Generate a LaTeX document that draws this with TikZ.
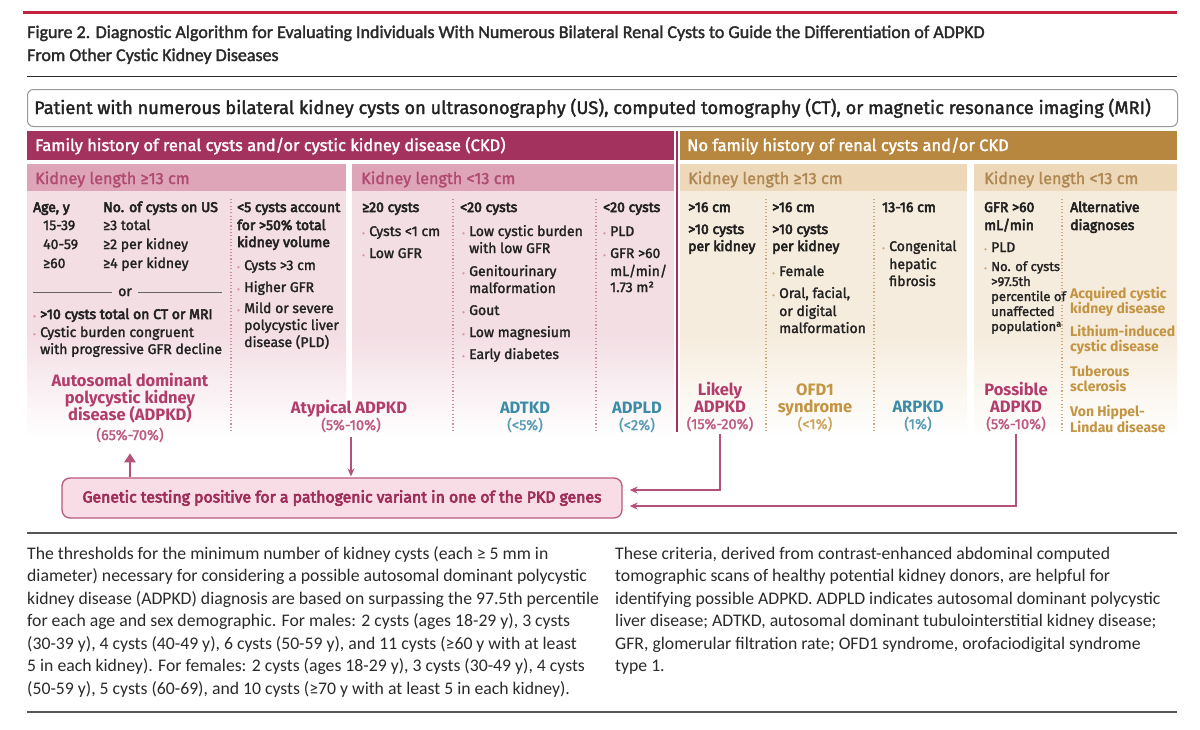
\documentclass[tikz,border=0pt]{standalone}
\usepackage{fontspec}
\setmainfont{Fira Sans}[UprightFeatures={FakeBold=1.8}]
\newfontfamily\capfont{Carlito}
\newfontfamily\titfont{Carlito}[FakeBold=1.8]
\newfontfamily\medfont{Fira Sans}[FakeBold=4]
\usetikzlibrary{arrows.meta}
\definecolor{redline}{HTML}{C4213F}
\definecolor{purplebar}{HTML}{A4325E}
\definecolor{goldbar}{HTML}{B8873F}
\definecolor{pinkhead}{HTML}{DDA5B7}
\definecolor{pinkheadtxt}{HTML}{B04A71}
\definecolor{pinkbody}{HTML}{F3DEE4}
\definecolor{beigehead}{HTML}{EDD9BA}
\definecolor{beigeheadtxt}{HTML}{AE8752}
\definecolor{beigebody}{HTML}{F6ECDD}
\definecolor{magtxt}{HTML}{B23D6C}
\definecolor{tealtxt}{HTML}{3B8CA7}
\definecolor{goldtxt}{HTML}{C39442}
\definecolor{darktxt}{HTML}{222222}
\definecolor{bulpink}{HTML}{D98FA8}
\definecolor{bultan}{HTML}{D0A46A}
\definecolor{dotpink}{HTML}{CC8CA3}
\definecolor{dottan}{HTML}{CFAB7A}
\definecolor{genfill}{HTML}{F9DDE6}
\definecolor{gendraw}{HTML}{BA5880}
\definecolor{gentxt}{HTML}{9E2E5A}
\definecolor{arrowc}{HTML}{B4517B}
\definecolor{capgray}{HTML}{2A2A2A}
\newcommand\bp{\makebox[7pt][l]{\textcolor{bulpink}{\fontsize{8}{8}\selectfont •}}}
\newcommand\bt{\makebox[7pt][l]{\textcolor{bultan}{\fontsize{8}{8}\selectfont •}}}
\newcommand\Ln[5][]{\node[txt,#1] (#2) at (#3,#4) {#5};}
\newcommand\Dg[5][]{\node[diag,#1] (#2) at (#3,#4) {#5};}
\begin{document}
\begin{tikzpicture}[x=1pt,y=-1pt,
  txt/.style={inner sep=0pt, anchor=base west, text=darktxt, font=\fontsize{14}{16}\selectfont},
  hd/.style={font=\fontsize{14}{16}\selectfont\medfont},
  alt/.style={text=goldtxt, font=\fontsize{14}{16}\selectfont\bfseries},
  diag/.style={inner sep=0pt, anchor=base, font=\fontsize{16.5}{17}\selectfont\bfseries},
  pct/.style={inner sep=0pt, anchor=base, font=\fontsize{14.5}{16}\selectfont},
  capt/.style={inner sep=0pt, anchor=base west, text=capgray, font=\fontsize{17.7}{20}\selectfont\capfont},
  sub/.style={inner sep=0pt, anchor=base west, font=\fontsize{16.2}{18}\selectfont},
  dotl/.style={line width=1.1pt, dash pattern=on 1.1pt off 2.2pt},
  dnar/.style={arrowc, line width=1.4pt, -{Stealth[length=8pt,width=7pt]}},
  upar/.style={arrowc, line width=2.8pt, -{Triangle[length=9pt,width=11pt]}},
  genbox/.style={draw=gendraw, fill=genfill, line width=1.3pt, rounded corners=8pt,
    minimum width=560pt, minimum height=40pt, text=gentxt, font=\fontsize{15.8}{17}\selectfont\medfont}
]
\useasboundingbox (0,0) rectangle (1200,729);
\fill[white] (0,0) rectangle (1200,729);

% title
\draw[redline, line width=3pt] (23,12) -- (1177,12);
\node[capt, font=\fontsize{18}{20}\selectfont\titfont] (t1) at (27,38) {Figure 2. Diagnostic Algorithm for Evaluating Individuals With Numerous Bilateral Renal Cysts to Guide the Differentiation of ADPKD};
\node[capt, font=\fontsize{18}{20}\selectfont\titfont] (t2) at (27,61) {From Other Cystic Kidney Diseases};
\draw[capgray, line width=1pt] (27,76) -- (1177,76);

% patient box
\node[draw=black!40, line width=1pt, rounded corners=6pt, minimum width=1150pt, minimum height=37pt, anchor=north west, inner sep=0pt] (patient) at (27,89) {};
\node[txt, font=\fontsize{18.2}{19}\selectfont] (patientT) at (34,114) {Patient with numerous bilateral kidney cysts on ultrasonography (US), computed tomography (CT), or magnetic resonance imaging (MRI)};

% headers
\fill[purplebar] (27,131) rectangle (674,160);
\fill[goldbar] (680,131) rectangle (1177,160);
\node[sub, text=white, font=\fontsize{16.5}{18}\selectfont] (famL) at (35,151) {Family history of renal cysts and/or cystic kidney disease (CKD)};
\node[sub, text=white, font=\fontsize{16.5}{18}\selectfont] (famR) at (687,151) {No family history of renal cysts and/or CKD};

\fill[pinkhead] (27,164) rectangle (346,191);
\fill[pinkhead] (352,164) rectangle (674,191);
\fill[beigehead] (680,164) rectangle (967,191);
\fill[beigehead] (974,164) rectangle (1177,191);
\node[sub, text=pinkheadtxt] (kl1) at (35,184) {Kidney length ≥13 cm};
\node[sub, text=pinkheadtxt] (kl2) at (361,184) {Kidney length <13 cm};
\node[sub, text=beigeheadtxt] (kl3) at (688,184) {Kidney length ≥13 cm};
\node[sub, text=beigeheadtxt] (kl4) at (984,184) {Kidney length <13 cm};

% bodies
\fill[pinkbody] (27,191) rectangle (346,335);
\shade[top color=pinkbody, bottom color=white] (27,335) rectangle (346,437);
\fill[pinkbody] (352,191) rectangle (674,335);
\shade[top color=pinkbody, bottom color=white] (352,335) rectangle (674,437);
\fill[beigebody] (680,191) rectangle (967,335);
\shade[top color=beigebody, bottom color=white] (680,335) rectangle (967,437);
\fill[beigebody] (974,191) rectangle (1177,335);
\shade[top color=beigebody, bottom color=white] (974,335) rectangle (1177,437);

\draw[purplebar, line width=2pt] (677,131) -- (677,432);
\draw[dotl, dotpink] (231,199) -- (231,432);
\draw[dotl, dotpink] (453,199) -- (453,432);
\draw[dotl, dotpink] (596,199) -- (596,432);
\draw[dotl, dottan] (766,199) -- (766,432);
\draw[dotl, dottan] (874,199) -- (874,432);
\draw[dotl, dottan] (1062,199) -- (1062,432);

% column A
\Ln[hd]{a1}{33}{212}{Age, y}
\Ln[hd]{a2}{103}{212}{No. of cysts on US}
\Ln{a3}{43}{230}{15-39}
\Ln{a4}{103}{230}{≥3 total}
\Ln{a5}{43}{249}{40-59}
\Ln{a6}{103}{249}{≥2 per kidney}
\Ln{a7}{43}{268}{≥60}
\Ln{a8}{103}{268}{≥4 per kidney}
\node[txt, anchor=base] (aor) at (125,296) {or};
\draw[darktxt!70, line width=0.7pt] (33,292) -- (112,292);
\draw[darktxt!70, line width=0.7pt] (138,292) -- (222,292);
\Ln[hd]{a9}{33}{319}{\bp>10 cysts total on CT or MRI}
\Ln{a10}{33}{337}{\bp Cystic burden congruent}
\Ln{a11}{40}{354}{with progressive GFR decline}

% column B
\Ln[hd]{b1}{237}{212}{<5 cysts account}
\Ln[hd]{b2}{237}{230}{for >50\% total}
\Ln[hd]{b3}{237}{247}{kidney volume}
\Ln{b4}{237}{270}{\bp Cysts >3 cm}
\Ln{b5}{237}{292}{\bp Higher GFR}
\Ln{b6}{237}{313}{\bp Mild or severe}
\Ln{b7}{244}{330}{polycystic liver}
\Ln{b8}{244}{347}{disease (PLD)}

% panel 2
\Ln[hd]{c1}{362}{212}{≥20 cysts}
\Ln{c2}{362}{236}{\bp Cysts <1 cm}
\Ln{c3}{362}{258}{\bp Low GFR}
\Ln[hd]{d1}{460}{212}{<20 cysts}
\Ln{d2}{462}{236}{\bp Low cystic burden}
\Ln{d3}{469}{253}{with low GFR}
\Ln{d4}{462}{276}{\bp Genitourinary}
\Ln{d5}{469}{293}{malformation}
\Ln{d6}{462}{315}{\bp Gout}
\Ln{d7}{462}{337}{\bp Low magnesium}
\Ln{d8}{462}{359}{\bp Early diabetes}
\Ln[hd]{e1}{603}{212}{<20 cysts}
\Ln{e2}{603}{236}{\bp PLD}
\Ln{e3}{603}{258}{\bp GFR >60}
\Ln{e4}{610}{276}{mL/min/}
\Ln{e5}{610}{292}{1.73 m²}

% panel 3
\Ln[hd]{f1}{688}{212}{>16 cm}
\Ln[hd]{f2}{688}{234}{>10 cysts}
\Ln[hd]{f3}{688}{251}{per kidney}
\Ln[hd]{g1}{772}{212}{>16 cm}
\Ln[hd]{g2}{772}{234}{>10 cysts}
\Ln[hd]{g3}{772}{251}{per kidney}
\Ln{g4}{772}{276}{\bt Female}
\Ln{g5}{772}{298}{\bt Oral, facial,}
\Ln{g6}{779}{316}{or digital}
\Ln{g7}{779}{333}{malformation}
\Ln[hd]{h1}{882}{212}{13-16 cm}
\Ln{h2}{882}{251}{\bt Congenital}
\Ln{h3}{889}{269}{hepatic}
\Ln{h4}{889}{286}{fibrosis}

% panel 4
\Ln[hd]{i1}{984}{212}{GFR >60}
\Ln[hd]{i2}{984}{230}{mL/min}
\Ln{i3}{984}{252}{\bt PLD}
\Ln[font=\fontsize{13}{14}\selectfont]{i4}{984}{271}{\bt No. of cysts}
\Ln[font=\fontsize{13}{14}\selectfont]{i5}{991}{286}{>97.5th}
\Ln[font=\fontsize{13}{14}\selectfont]{i6}{991}{301}{percentile of}
\Ln[font=\fontsize{13}{14}\selectfont]{i7}{991}{316}{unaffected}
\Ln[font=\fontsize{13}{14}\selectfont]{i8}{991}{331}{population\textsuperscript{a}}
\Ln[hd]{j1}{1070}{212}{Alternative}
\Ln[hd]{j2}{1070}{230}{diagnoses}
\Ln[alt]{j3}{1070}{298}{Acquired cystic}
\Ln[alt]{j4}{1070}{313}{kidney disease}
\Ln[alt]{j5}{1070}{336}{Lithium-induced}
\Ln[alt]{j6}{1070}{351}{cystic disease}
\Ln[alt]{j7}{1070}{376}{Tuberous}
\Ln[alt]{j8}{1070}{391}{sclerosis}
\Ln[alt]{j9}{1070}{416}{Von Hippel-}
\Ln[alt]{j10}{1070}{432}{Lindau disease}

% diagnoses
\Dg[text=magtxt]{adp1}{130}{386}{Autosomal dominant}
\Dg[text=magtxt]{adp2}{130}{403}{polycystic kidney}
\Dg[text=magtxt]{adp3}{130}{420}{disease (ADPKD)}
\node[pct, text=magtxt!85] (adpPct) at (130,440) {(65\%-70\%)};
\Dg[text=magtxt]{atyp}{349}{413}{Atypical ADPKD}
\node[pct, text=magtxt!85] (atypPct) at (351,430) {(5\%-10\%)};
\Dg[text=tealtxt]{adtkd}{525}{413}{ADTKD}
\node[pct, text=tealtxt!85] (adtkdPct) at (525,430) {(<5\%)};
\Dg[text=tealtxt]{adpld}{637}{413}{ADPLD}
\node[pct, text=tealtxt!85] (adpldPct) at (637,430) {(<2\%)};
\Dg[text=magtxt]{lik1}{720}{395}{Likely}
\Dg[text=magtxt]{lik2}{720}{412}{ADPKD}
\node[pct, text=magtxt!85] (likPct) at (720,429) {(15\%-20\%)};
\Dg[text=goldtxt]{ofd1}{815}{395}{OFD1}
\Dg[text=goldtxt]{ofd2}{815}{412}{syndrome}
\node[pct, text=goldtxt!85] (ofdPct) at (815,429) {(<1\%)};
\Dg[text=tealtxt]{arp}{918}{412}{ARPKD}
\node[pct, text=tealtxt!85] (arpPct) at (918,429) {(1\%)};
\Dg[text=magtxt]{pos1}{1016}{395}{Possible}
\Dg[text=magtxt]{pos2}{1016}{412}{ADPKD}
\node[pct, text=magtxt!85] (posPct) at (1016,429) {(5\%-10\%)};

% genetic box and arrows
\node[genbox] (gen) at (342,498) {Genetic testing positive for a pathogenic variant in one of the PKD genes};
\draw[upar] (gen.north -| adpPct.south) -- ([yshift=-11pt]adpPct.south);
\draw[dnar] ([yshift=-5pt]atypPct.south) -- ([yshift=1pt]gen.north -| atypPct.south);
\draw[dnar] ([yshift=-3pt]likPct.south) |- ([xshift=7pt,yshift=8pt]gen.east);
\draw[dnar] ([yshift=-3pt]posPct.south) |- ([xshift=7pt,yshift=-8pt]gen.east);

% footnotes
\draw[capgray!80, line width=1.2pt] (27,533) -- (1177,533);
\foreach \t [count=\i] in {
 {The thresholds for the minimum number of kidney cysts (each ≥ 5 mm in},
 {diameter) necessary for considering a possible autosomal dominant polycystic},
 {kidney disease (ADPKD) diagnosis are based on surpassing the 97.5th percentile},
 {for each age and sex demographic. For males: 2 cysts (ages 18-29 y), 3 cysts},
 {(30-39 y), 4 cysts (40-49 y), 6 cysts (50-59 y), and 11 cysts (≥60 y with at least},
 {5 in each kidney). For females: 2 cysts (ages 18-29 y), 3 cysts (30-49 y), 4 cysts},
 {(50-59 y), 5 cysts (60-69), and 10 cysts (≥70 y with at least 5 in each kidney).}}
 {\node[capt] (fnL\i) at (27,{559+22.5*(\i-1)}) {\t};}
\foreach \t [count=\i] in {
 {These criteria, derived from contrast-enhanced abdominal computed},
 {tomographic scans of healthy potential kidney donors, are helpful for},
 {identifying possible ADPKD. ADPLD indicates autosomal dominant polycystic},
 {liver disease; ADTKD, autosomal dominant tubulointerstitial kidney disease;},
 {GFR, glomerular filtration rate; OFD1 syndrome, orofaciodigital syndrome},
 {type 1.}}
 {\node[capt] (fnR\i) at (615,{559+22.5*(\i-1)}) {\t};}
\draw[capgray!80, line width=1.2pt] (27,712) -- (1177,712);
\end{tikzpicture}
\end{document}
